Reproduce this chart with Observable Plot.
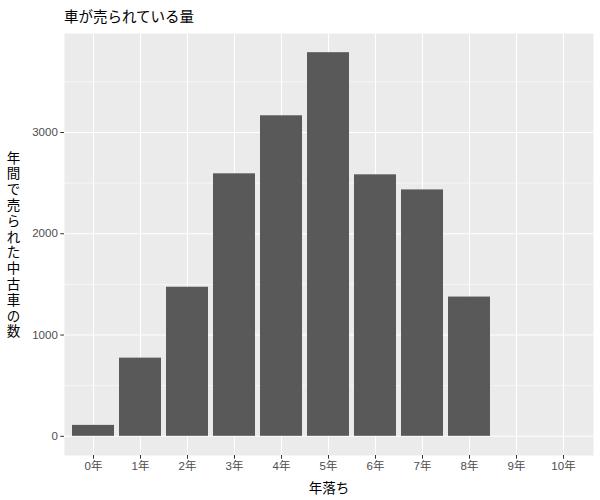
<!DOCTYPE html>
<html>
<head>
<meta charset="utf-8">
<script src="https://cdn.jsdelivr.net/npm/d3@7"></script>
<script src="https://cdn.jsdelivr.net/npm/@observablehq/plot@0.6"></script>
<style>
  body { margin: 0; background: white; font-family: "Liberation Sans", "Noto Sans CJK JP", sans-serif; }
  #title { height: 33px; line-height: 34px; padding-left: 64px; font-size: 14.5px; color: #000; }
</style>
</head>
<body>
<div id="title"></div>
<div id="chart"></div>
<script>
const titleText = "車が売られている量";
const xLabel = "年落ち";
const yLabel = "年間で売られた中古車の数";
const years = ["0年", "1年", "2年", "3年", "4年", "5年", "6年", "7年", "8年", "9年", "10年"];
const counts = [108, 772, 1472, 2592, 3165, 3788, 2582, 2433, 1375, 0, 0];
const yMajor = [0, 1000, 2000, 3000];
const yMinor = [500, 1500, 2500, 3500];

document.getElementById("title").textContent = titleText;

const data = years.map((d, i) => ({year: d, count: counts[i]}));
const ymax = d3.max(counts);
const font = "'Liberation Sans', 'Noto Sans CJK JP', sans-serif";

const chart = Plot.plot({
  width: 600,
  height: 467,
  marginTop: 0,
  marginBottom: 45,
  marginLeft: 64,
  marginRight: 7,
  style: {fontFamily: font, background: "white", overflow: "visible"},
  x: {domain: years, paddingInner: 0.1, paddingOuter: 0.15},
  y: {domain: [-0.05 * ymax, 1.05 * ymax]},
  marks: [
    Plot.frame({fill: "#EBEBEB", stroke: null}),
    Plot.ruleY(yMinor, {stroke: "white", strokeWidth: 0.55}),
    Plot.ruleY(yMajor, {stroke: "white", strokeWidth: 1.1}),
    Plot.ruleX(years, {stroke: "white", strokeWidth: 1.1}),
    Plot.barY(data, {x: "year", y: "count", fill: "#595959"}),
    Plot.axisX({tickSize: 3.7, tickPadding: 3, fontSize: 11.5, fill: "#4D4D4D", stroke: "#333", label: null}),
    Plot.axisY({ticks: yMajor, tickFormat: d => String(d), tickSize: 3.7, tickPadding: 3, fontSize: 11.5, fill: "#4D4D4D", stroke: "#333", label: null}),
    Plot.text([xLabel], {frameAnchor: "bottom", dy: 33, lineAnchor: "middle", text: d => d, fontSize: 13.5, fill: "#000"}),
    Plot.text([yLabel], {frameAnchor: "left", dx: -51, textAnchor: "middle", lineAnchor: "middle", text: d => d.split("").join("\n"), fontSize: 13.5, lineHeight: 1.17, fill: "#000"})
  ]
});
document.getElementById("chart").appendChild(chart);
</script>
</body>
</html>
